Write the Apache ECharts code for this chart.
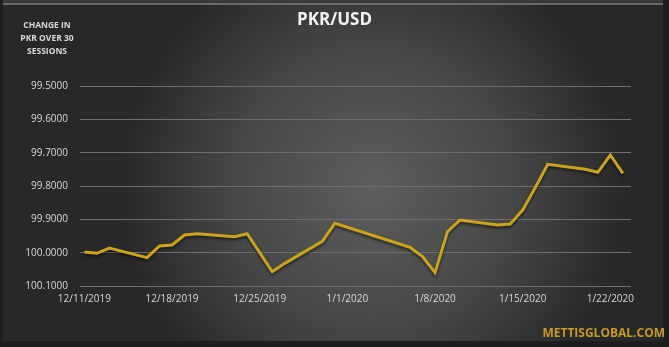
<!DOCTYPE html>
<html>
<head>
<meta charset="utf-8">
<script src="https://cdn.jsdelivr.net/npm/echarts@6/dist/echarts.min.js"></script>
<style>html,body{margin:0;padding:0;background:#262626;}#c{width:669px;height:347px;}</style>
</head>
<body>
<div id="c"></div>
<script>
var dates = ['2019-12-11','2019-12-12','2019-12-13','2019-12-16','2019-12-17','2019-12-18','2019-12-19','2019-12-20','2019-12-23','2019-12-24','2019-12-26','2019-12-27','2019-12-30','2019-12-31','2020-01-06','2020-01-07','2020-01-08','2020-01-09','2020-01-10','2020-01-13','2020-01-14','2020-01-15','2020-01-16','2020-01-17','2020-01-20','2020-01-21','2020-01-22','2020-01-23'];
var values = [99.998,100.002,99.986,100.015,99.980,99.977,99.947,99.943,99.952,99.943,100.057,100.032,99.966,99.912,99.984,100.012,100.060,99.937,99.902,99.917,99.914,99.872,99.805,99.735,99.750,99.759,99.707,99.762];
var tickDays = [0,7,14,21,28,35,42];
var yTicks = [99.5,99.6,99.7,99.8,99.9,100.0,100.1];

var base = Date.UTC(2019,11,11);
function dayOf(s){var p=s.split('-');return Math.round((Date.UTC(+p[0],+p[1]-1,+p[2])-base)/86400000);}
function labelOf(d){var dt=new Date(base+d*86400000);return (dt.getUTCMonth()+1)+'/'+dt.getUTCDate()+'/'+dt.getUTCFullYear();}
var seriesData = dates.map(function(s,i){return [dayOf(s), values[i]];});

var chart = echarts.init(document.getElementById('c'), null, {renderer:'canvas'});
var W=669,H=347;
chart.setOption({
  backgroundColor: 'transparent',
  animation: false,
  graphic: [
    {type:'rect', z:-10, silent:true, shape:{x:0,y:0,width:W,height:H}, style:{fill:'#1e1e1e'}},
    {type:'rect', z:-9, silent:true, shape:{x:3,y:3,width:W-9,height:H-9},
      style:{fill:{type:'radial',x:0.56,y:0.55,r:0.75,colorStops:[{offset:0,color:'#5e5e5e'},{offset:0.55,color:'#474747'},{offset:1,color:'#282828'}]}}},
    {type:'rect', z:-8, silent:true, shape:{x:3,y:3,width:W-9,height:2}, style:{fill:'#6a6a6a'}},
    {type:'rect', z:-8, silent:true, shape:{x:3,y:0,width:W-9,height:3}, style:{fill:'#3a3a3a'}},
    {type:'text', x:665, y:328, silent:true, style:{text:'METTISGLOBAL.COM', fill:'#c99a1e', font:'bold 12px "Open Sans", sans-serif', textAlign:'right', textVerticalAlign:'top'}},
    {type:'text', x:47, y:19, silent:true, style:{text:'CHANGE IN\nPKR OVER 30\nSESSIONS', fill:'#d9d9d9', font:'bold 8.5px "Open Sans", sans-serif', textAlign:'center', textVerticalAlign:'top', lineHeight:13}}
  ],
  title: {
    text: 'PKR/USD', left: 'center', top: 7,
    textStyle: {color:'#f2f2f2', fontSize:17, fontWeight:'bold', fontFamily:'"Open Sans", sans-serif'}
  },
  grid: {left:80, right:38, top:86, bottom:61, containLabel:false},
  xAxis: {
    type:'value', min:-0.35, max:43.65,
    axisLine:{show:false}, axisTick:{show:false}, splitLine:{show:false},
    axisLabel:{customValues:tickDays, formatter:function(v){return labelOf(v);}, color:'#d9d9d9', fontSize:10, fontFamily:'"Open Sans", sans-serif', margin:8}
  },
  yAxis: {
    type:'value', inverse:true, min:99.5, max:100.1, interval:0.1,
    axisLine:{show:false}, axisTick:{show:false},
    splitLine:{lineStyle:{color:'#6e6e6e', width:1}},
    axisLabel:{customValues:yTicks, formatter:function(v){return v.toFixed(4);}, color:'#d9d9d9', fontSize:10, fontFamily:'"Open Sans", sans-serif', margin:12}
  },
  series: [{
    type:'line', data:seriesData, showSymbol:false, symbol:'none',
    lineStyle:{color:'#caa419', width:3, shadowColor:'rgba(0,0,0,0.55)', shadowBlur:3, shadowOffsetY:2, join:'miter'}
  }]
});
</script>
</body>
</html>
